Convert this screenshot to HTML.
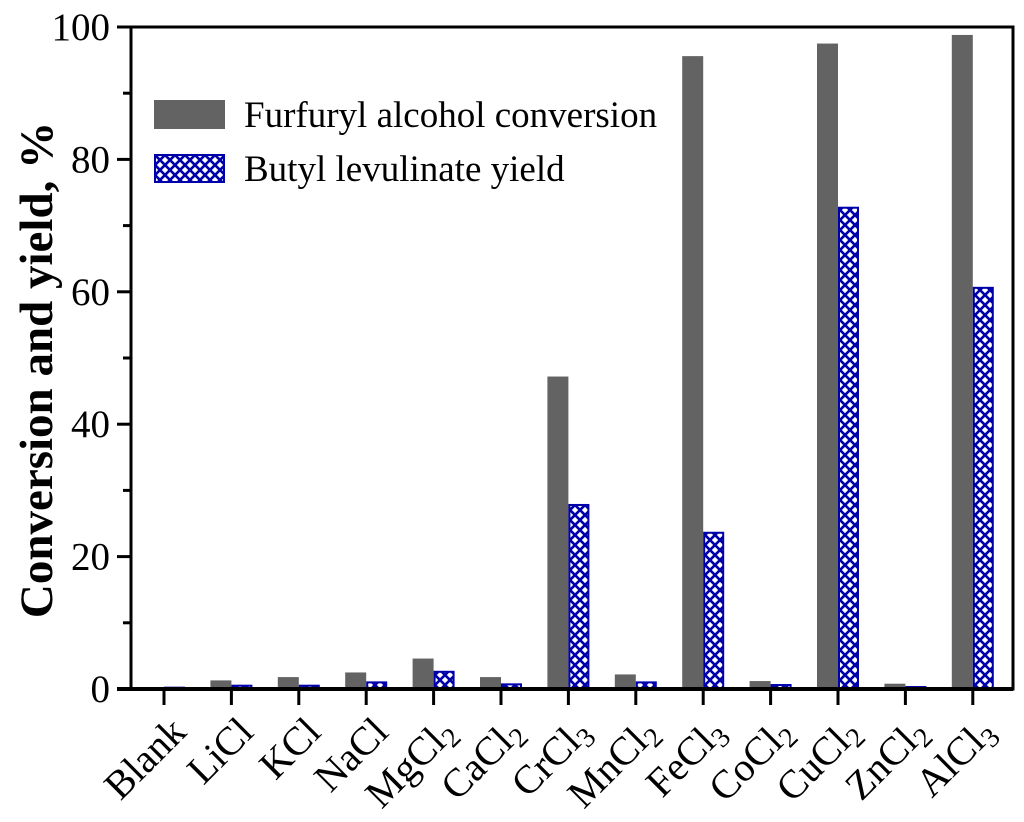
<!DOCTYPE html>
<html><head><meta charset="utf-8"><style>
html,body{margin:0;padding:0;background:#fff;}
svg{display:block;font-family:"Liberation Serif",serif;}
</style></head><body>
<svg id="chart" width="1024" height="822" viewBox="0 0 1024 822" xmlns="http://www.w3.org/2000/svg">
<defs>
<pattern id="hatch" patternUnits="userSpaceOnUse" width="10" height="10">
<rect width="10" height="10" fill="#fff"/>
<path d="M-1,-1 L11,11 M-1,9 L1,11 M9,-1 L11,1 M11,-1 L-1,11 M1,-1 L-1,1 M11,9 L9,11" stroke="#0000aa" stroke-width="2.6"/>
</pattern>
</defs>
<g id="plot"></g>
</svg>
<script>
const categories = ["Blank","LiCl","KCl","NaCl","MgCl|2","CaCl|2","CrCl|3","MnCl|2","FeCl|3","CoCl|2","CuCl|2","ZnCl|2","AlCl|3"];
const conversion = [0.3,1.3,1.8,2.5,4.6,1.8,47.2,2.2,95.6,1.2,97.5,0.8,98.8];
const yieldVals = [0.2,0.5,0.5,1.0,2.6,0.7,27.8,1.0,23.6,0.6,72.7,0.3,60.6];
const yTicks = [0,20,40,60,80,100];
const yMinor = [10,30,50,70,90];

const NS="http://www.w3.org/2000/svg";
const g=document.getElementById('plot');
const L=131,R=1013,T=27,B=689;
const y=v=>B-(v/100)*(B-T);
const x=i=>164+i*67.4;
const bw=21;
function mk(t,a,p){const e=document.createElementNS(NS,t);for(const k in a)e.setAttribute(k,a[k]);(p||g).appendChild(e);return e;}

categories.forEach((c,i)=>{
  const b1=mk('rect',{x:x(i)-bw,y:y(conversion[i]),width:bw,height:B-y(conversion[i]),fill:'#636363'});
  
  
  const yv=yieldVals[i];
  const b2=mk('rect',{x:x(i)+1,y:y(yv),width:bw-2,height:Math.max(B-y(yv),0.5),fill:'url(#hatch)',stroke:'#0000aa','stroke-width':2});
  
  
  mk('line',{x1:x(i),x2:x(i),y1:B,y2:B+16,stroke:'#000','stroke-width':3});
  const parts=c.split('|');
  const t=mk('text',{x:0,y:0,'font-size':40,'text-anchor':'end',transform:`translate(${x(i)+24},${B+45}) rotate(-45)`});
  
  
  t.appendChild(document.createTextNode(parts[0]));
  if(parts[1]){const s=mk('tspan',{'font-size':28,dy:7},t);s.textContent=parts[1];}
});
// axes
mk('rect',{x:L,y:T,width:R-L,height:B-T,fill:'none',stroke:'#000','stroke-width':3});
mk('line',{x1:L-14,x2:R,y1:B,y2:B,stroke:'#000','stroke-width':4});
yTicks.forEach(v=>{
  mk('line',{x1:L-14,x2:L,y1:y(v),y2:y(v),stroke:'#000','stroke-width':3});
  const t=mk('text',{x:L-21,y:y(v)+13,'font-size':39,'text-anchor':'end'});
  
  
  t.textContent=v;
});
yMinor.forEach(v=>mk('line',{x1:L-8,x2:L,y1:y(v),y2:y(v),stroke:'#000','stroke-width':3}));
const yt=mk('text',{x:0,y:0,'font-size':47,'font-weight':'bold','text-anchor':'middle',transform:'translate(52,370) rotate(-90)'});


yt.textContent='Conversion and yield, %';
// legend
const l1=mk('rect',{x:154,y:100,width:71,height:29,fill:'#636363'});


const lt1=mk('text',{x:244,y:127,'font-size':37});


lt1.textContent='Furfuryl alcohol conversion';
const l2=mk('rect',{x:155,y:155,width:69,height:27,fill:'url(#hatch)',stroke:'#0000aa','stroke-width':2});


const lt2=mk('text',{x:244,y:181,'font-size':37});


lt2.textContent='Butyl levulinate yield';
</script>
</body></html>
